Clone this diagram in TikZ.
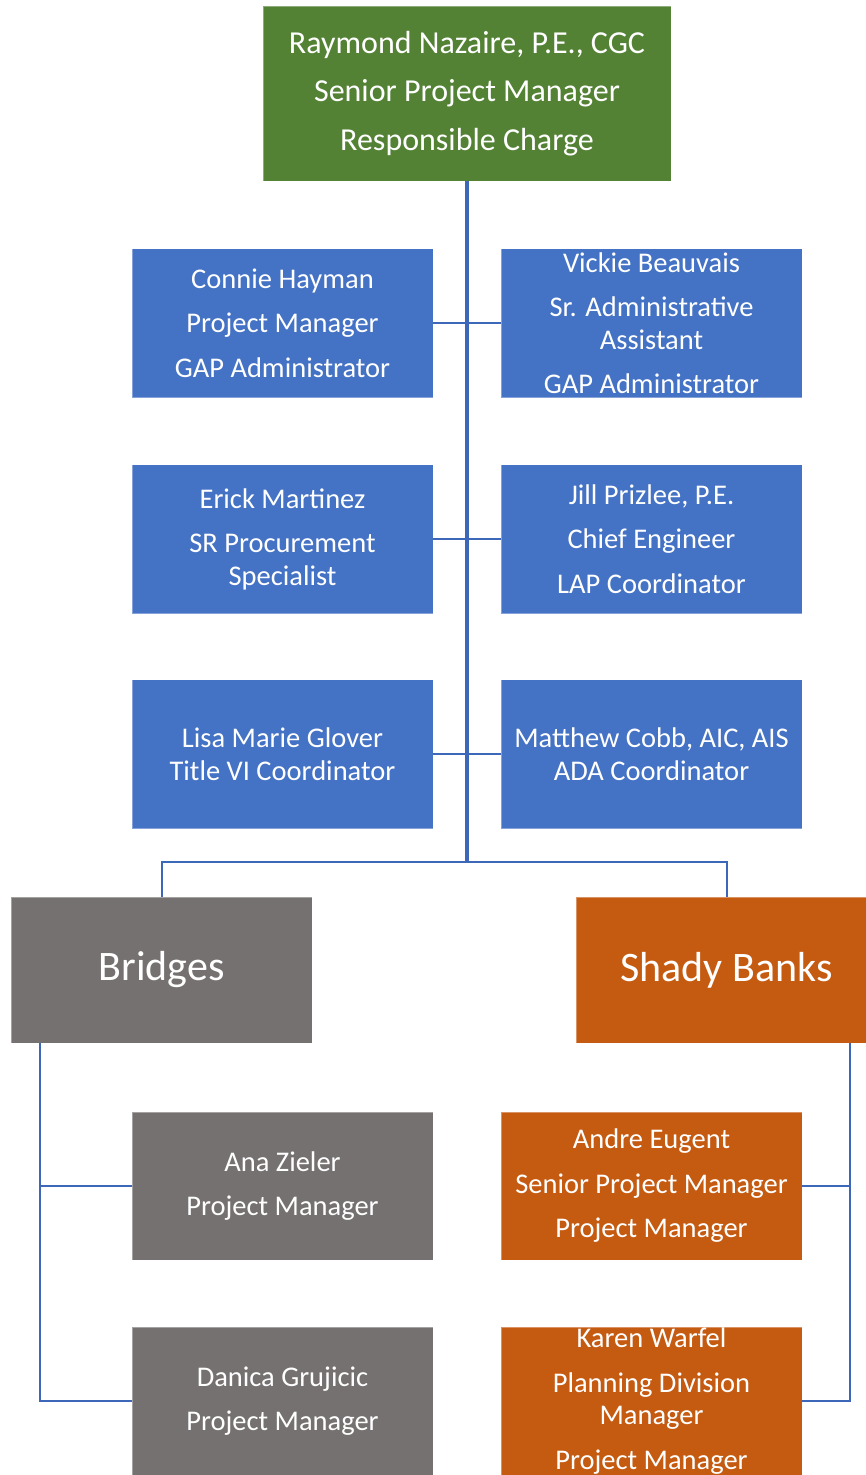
\documentclass[tikz,border=0pt]{standalone}
\usepackage{fontspec}
\setmainfont{Carlito}
\definecolor{topgreen}{HTML}{548235}
\definecolor{midblue}{HTML}{4472C4}
\definecolor{bgray}{HTML}{767171}
\definecolor{borange}{HTML}{C55A11}
\definecolor{linkblue}{HTML}{3D67B8}
\begin{document}
\begin{tikzpicture}[x=1pt,y=-1pt,
  box/.style={draw=white, draw opacity=0.35, line width=0.6pt, inner sep=0pt, outer sep=0pt,
    minimum width=301pt, minimum height=149pt, text=white, align=center,
    font=\fontsize{28.5}{32.5}\selectfont},
  bluebox/.style={box, fill=midblue},
  graybox/.style={box, fill=bgray},
  orangebox/.style={box, fill=borange},
  conn/.style={draw=linkblue, line width=2pt},
  trunk/.style={conn, line width=3.2pt}]
\useasboundingbox (0,0) rectangle (866,1475);
\clip (0,0) rectangle (866,1475);

\node[box, fill=topgreen, minimum width=408pt, minimum height=175pt,
  font=\fontsize{32}{36}\selectfont] (top) at (467,93.5)
  {Raymond Nazaire, P.E., CGC\\[12.5pt]Senior Project Manager\\[12.5pt]Responsible Charge};

\node[bluebox] (cH) at (282.5,323) {Connie Hayman\\[12pt]Project Manager\\[12pt]GAP Administrator};
\node[bluebox] (vB) at (651.5,323) {Vickie Beauvais\\[12pt]Sr. Administrative\\Assistant\\[12pt]GAP Administrator};
\node[bluebox] (eM) at (282.5,539) {Erick Martinez\\[12pt]SR Procurement\\Specialist};
\node[bluebox] (jP) at (651.5,539) {Jill Prizlee, P.E.\\[12pt]Chief Engineer\\[12pt]LAP Coordinator};
\node[bluebox] (lG) at (282.5,754) {Lisa Marie Glover\\Title VI Coordinator};
\node[bluebox] (mC) at (651.5,754) {Matthew Cobb, AIC, AIS\\ADA Coordinator};

\node[graybox, minimum height=146pt, font=\fontsize{42}{50}\selectfont] (bridges) at (161.5,970) {Bridges};
\node[orangebox, minimum height=146pt, font=\fontsize{42}{50}\selectfont] (shady) at (726.5,970) {Shady Banks};

\node[graybox, minimum height=148pt] (ana) at (282.5,1186) {Ana Zieler\\[12pt]Project Manager};
\node[orangebox, minimum height=148pt] (andre) at (651.5,1186) {Andre Eugent\\[12pt]Senior Project Manager\\[12pt]Project Manager};
\node[graybox, minimum height=148pt] (danica) at (282.5,1401) {Danica Grujicic\\[12pt]Project Manager};
\node[orangebox, minimum height=148pt] (karen) at (651.5,1401) {Karen Warfel\\[12pt]Planning Division\\Manager\\[12pt]Project Manager};

\coordinate (j) at (467,862);
\draw[trunk] (top.south) -- (j);
\draw[conn] (cH.east) -- (vB.west);
\draw[conn] (eM.east) -- (jP.west);
\draw[conn] (lG.east) -- (mC.west);
\draw[conn] (bridges.north) |- (j) -| (shady.north);
\draw[conn] ([xshift=29pt]bridges.south west) |- (ana.west);
\draw[conn] ([xshift=29pt]bridges.south west) |- (danica.west);
\draw[conn] ([xshift=-27pt]shady.south east) |- (andre.east);
\draw[conn] ([xshift=-27pt]shady.south east) |- (karen.east);
\end{tikzpicture}
\end{document}
